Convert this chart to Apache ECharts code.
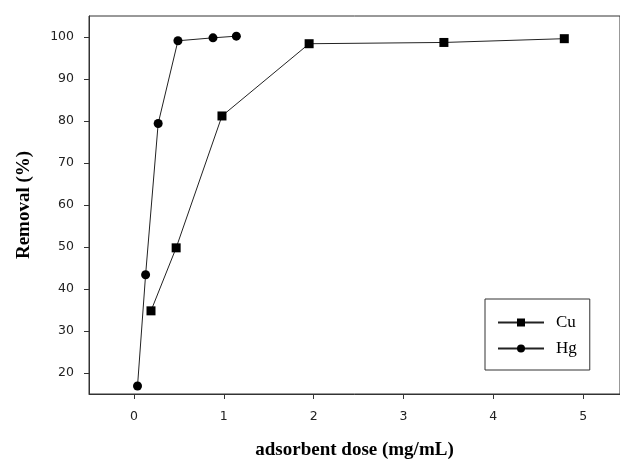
<!DOCTYPE html>
<html>
<head>
<meta charset="utf-8">
<script src="https://cdn.jsdelivr.net/npm/echarts@6/dist/echarts.min.js"></script>
<style>
  html, body { margin: 0; padding: 0; background: #fff; }
  #chart { width: 620px; height: 467px; }
</style>
</head>
<body>
<div id="chart"></div>
<script>
  // adsorbent dose (mg/mL) vs removal (%)
  const cuDose = [0.19, 0.47, 0.98, 1.95, 3.45, 4.79]
  const cuRemoval = [34.8, 49.8, 81.2, 98.4, 98.7, 99.6]
  const hgDose = [0.04, 0.13, 0.27, 0.49, 0.88, 1.14]
  const hgRemoval = [16.9, 43.4, 79.4, 99.1, 99.8, 100.2]
  const xTicks = [0, 1, 2, 3, 4, 5]
  const yTicks = [20, 30, 40, 50, 60, 70, 80, 90, 100]

  const pairs = (xs, ys) => xs.map((x, i) => [x, ys[i]])
  const axisColor = '#333'
  const tickFont = { fontFamily: 'DejaVu Sans', fontSize: 12.5, color: '#222' }
  const titleFont = { fontFamily: 'Liberation Serif', fontSize: 19, fontWeight: 'bold', color: '#000' }

  let myChart = echarts.init(document.getElementById('chart'))
  let option = {
    animation: false,
    grid: {
      left: 89, top: 16, right: -1, bottom: 73,
      show: true, borderColor: axisColor, borderWidth: 1
    },
    legend: {
      orient: 'vertical',
      left: 485, top: 299,
      padding: [15, 13, 13, 12],
      itemGap: 9,
      itemWidth: 46, itemHeight: 10,
      borderColor: axisColor, borderWidth: 1,
      textStyle: { fontFamily: 'Liberation Serif', fontSize: 17, color: '#000', padding: [0, 0, 0, 7] },
      data: ['Cu', 'Hg']
    },
    xAxis: {
      type: 'value',
      min: -0.5, max: 5.41,
      name: 'adsorbent dose (mg/mL)',
      nameLocation: 'middle',
      nameGap: 47,
      nameTextStyle: titleFont,
      splitLine: { show: false },
      axisLine: { onZero: false, lineStyle: { color: axisColor } },
      axisTick: { length: 5, lineStyle: { color: axisColor }, customValues: xTicks },
      axisLabel: Object.assign({ margin: 16, customValues: xTicks }, tickFont)
    },
    yAxis: {
      type: 'value',
      min: 15, max: 105,
      name: 'Removal (%)',
      nameLocation: 'middle',
      nameGap: 55,
      nameTextStyle: titleFont,
      splitLine: { show: false },
      axisLine: { onZero: false, lineStyle: { color: axisColor } },
      axisTick: { length: 5, lineStyle: { color: axisColor }, customValues: yTicks },
      axisLabel: Object.assign({ margin: 15, customValues: yTicks }, tickFont)
    },
    series: [
      {
        name: 'Cu',
        type: 'line',
        data: pairs(cuDose, cuRemoval),
        symbol: 'rect', symbolSize: 9,
        itemStyle: { color: '#000' },
        lineStyle: { color: '#222', width: 1 }
      },
      {
        name: 'Hg',
        type: 'line',
        data: pairs(hgDose, hgRemoval),
        symbol: 'circle', symbolSize: 9,
        itemStyle: { color: '#000' },
        lineStyle: { color: '#222', width: 1 }
      }
    ]
  }
  myChart.setOption(option)
</script>
</body>
</html>
